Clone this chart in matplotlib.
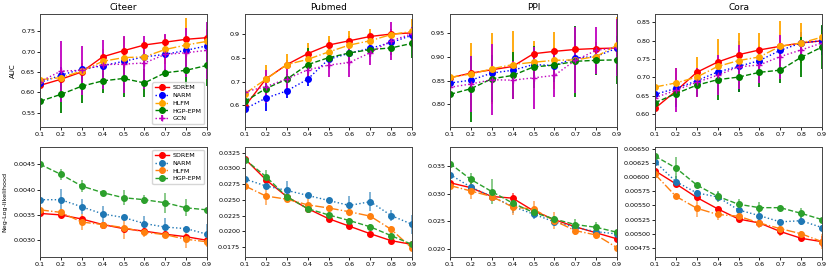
import numpy as np
import matplotlib
matplotlib.use("Agg")
import matplotlib.pyplot as plt
from matplotlib.ticker import MultipleLocator

ratios = [0.1, 0.2, 0.3, 0.4, 0.5, 0.6, 0.7, 0.8, 0.9]
datasets = ["Citeer", "Pubmed", "PPI", "Cora"]

# AUC (top row)
auc_sdrem = [
    [0.617, 0.632, 0.650, 0.687, 0.702, 0.716, 0.723, 0.730, 0.734],
    [0.597, 0.711, 0.771, 0.817, 0.853, 0.871, 0.889, 0.899, 0.904],
    [0.856, 0.866, 0.873, 0.880, 0.907, 0.912, 0.916, 0.918, 0.919],
    [0.616, 0.663, 0.714, 0.742, 0.762, 0.775, 0.785, 0.794, 0.800],
]
auc_narm = [
    [0.624, 0.642, 0.657, 0.665, 0.676, 0.687, 0.693, 0.703, 0.714],
    [0.586, 0.631, 0.661, 0.710, 0.793, 0.819, 0.839, 0.864, 0.894],
    [0.845, 0.851, 0.866, 0.872, 0.884, 0.882, 0.898, 0.901, 0.919],
    [0.654, 0.670, 0.691, 0.715, 0.730, 0.746, 0.774, 0.794, 0.800],
]
auc_hlfm = [
    [0.631, 0.636, 0.652, 0.676, 0.685, 0.687, 0.705, 0.716, 0.725],
    [0.650, 0.710, 0.771, 0.793, 0.824, 0.853, 0.871, 0.897, 0.910],
    [0.857, 0.864, 0.875, 0.884, 0.889, 0.893, 0.894, 0.901, 0.925],
    [0.674, 0.685, 0.701, 0.730, 0.746, 0.756, 0.785, 0.794, 0.810],
]
auc_hgp = [
    [0.578, 0.595, 0.615, 0.628, 0.634, 0.623, 0.648, 0.654, 0.666],
    [0.617, 0.671, 0.710, 0.771, 0.800, 0.820, 0.834, 0.841, 0.860],
    [0.821, 0.833, 0.854, 0.861, 0.879, 0.883, 0.891, 0.893, 0.894],
    [0.631, 0.656, 0.679, 0.694, 0.701, 0.714, 0.720, 0.755, 0.783],
]
auc_gcn = [
    [0.626, 0.652, 0.654, 0.668, 0.669, 0.672, 0.693, 0.697, 0.703],
    [0.657, 0.679, 0.711, 0.749, 0.769, 0.780, 0.821, 0.871, 0.900],
    [0.836, 0.843, 0.852, 0.851, 0.856, 0.861, 0.893, 0.914, 0.920],
    [0.645, 0.665, 0.687, 0.706, 0.729, 0.734, 0.757, 0.775, 0.794],
]
# AUC errors
auc_sdrem_err = [
    [0.005, 0.005, 0.005, 0.010, 0.010, 0.010, 0.010, 0.010, 0.010],
    [0.010, 0.010, 0.020, 0.020, 0.020, 0.020, 0.020, 0.020, 0.020],
    [0.010, 0.010, 0.010, 0.010, 0.010, 0.010, 0.010, 0.010, 0.010],
    [0.010, 0.010, 0.010, 0.010, 0.010, 0.010, 0.010, 0.010, 0.010],
]
auc_narm_err = [
    [0.060, 0.020, 0.010, 0.010, 0.010, 0.010, 0.010, 0.010, 0.010],
    [0.060, 0.055, 0.030, 0.030, 0.030, 0.030, 0.020, 0.020, 0.020],
    [0.020, 0.020, 0.020, 0.020, 0.020, 0.020, 0.020, 0.030, 0.020],
    [0.070, 0.050, 0.030, 0.040, 0.070, 0.030, 0.040, 0.030, 0.040],
]
auc_hlfm_err = [
    [0.020, 0.020, 0.020, 0.030, 0.050, 0.020, 0.035, 0.065, 0.030],
    [0.020, 0.060, 0.045, 0.070, 0.065, 0.060, 0.050, 0.020, 0.050],
    [0.060, 0.065, 0.075, 0.070, 0.045, 0.060, 0.050, 0.030, 0.060],
    [0.040, 0.040, 0.055, 0.075, 0.075, 0.065, 0.070, 0.055, 0.020],
]
auc_hgp_err = [
    [0.050, 0.045, 0.040, 0.030, 0.045, 0.035, 0.010, 0.040, 0.050],
    [0.010, 0.030, 0.020, 0.070, 0.020, 0.040, 0.030, 0.030, 0.060],
    [0.045, 0.070, 0.050, 0.050, 0.045, 0.035, 0.075, 0.030, 0.050],
    [0.020, 0.030, 0.030, 0.055, 0.040, 0.040, 0.035, 0.055, 0.060],
]
auc_gcn_err = [
    [0.030, 0.075, 0.060, 0.060, 0.070, 0.065, 0.050, 0.060, 0.070],
    [0.060, 0.070, 0.060, 0.030, 0.050, 0.060, 0.050, 0.080, 0.030],
    [0.030, 0.060, 0.075, 0.040, 0.065, 0.045, 0.070, 0.050, 0.060],
    [0.080, 0.060, 0.040, 0.055, 0.060, 0.050, 0.060, 0.020, 0.020],
]

# Neg-Log-likelihood (bottom row)
nll_sdrem = [
    [0.00353, 0.00350, 0.00342, 0.00331, 0.00323, 0.00318, 0.00312, 0.00307, 0.00300],
    [0.0315, 0.0282, 0.0255, 0.0236, 0.0220, 0.0208, 0.0196, 0.0185, 0.0179],
    [0.0320, 0.0311, 0.0295, 0.0292, 0.0269, 0.0253, 0.0240, 0.0229, 0.0218],
    [0.00611, 0.00588, 0.00564, 0.00544, 0.00526, 0.00519, 0.00504, 0.00492, 0.00486],
]
nll_narm = [
    [0.00380, 0.00380, 0.00366, 0.00352, 0.00345, 0.00333, 0.00326, 0.00323, 0.00312],
    [0.0283, 0.0272, 0.0265, 0.0257, 0.0249, 0.0241, 0.0247, 0.0225, 0.0211],
    [0.0335, 0.0312, 0.0295, 0.0277, 0.0263, 0.0249, 0.0239, 0.0231, 0.0227],
    [0.00627, 0.00592, 0.00572, 0.00565, 0.00542, 0.00532, 0.00521, 0.00523, 0.00511],
]
nll_hlfm = [
    [0.00360, 0.00355, 0.00336, 0.00331, 0.00325, 0.00316, 0.00311, 0.00302, 0.00297],
    [0.0272, 0.0256, 0.0251, 0.0242, 0.0237, 0.0231, 0.0224, 0.0203, 0.0173],
    [0.0315, 0.0305, 0.0295, 0.0276, 0.0272, 0.0251, 0.0233, 0.0225, 0.0202],
    [0.00605, 0.00566, 0.00545, 0.00534, 0.00531, 0.00519, 0.00509, 0.00500, 0.00486],
]
nll_hgp = [
    [0.00450, 0.00430, 0.00407, 0.00394, 0.00384, 0.00380, 0.00374, 0.00364, 0.00360],
    [0.0314, 0.0287, 0.0255, 0.0236, 0.0226, 0.0217, 0.0207, 0.0193, 0.0179],
    [0.0355, 0.0326, 0.0304, 0.0283, 0.0266, 0.0254, 0.0244, 0.0239, 0.0230],
    [0.00637, 0.00616, 0.00586, 0.00566, 0.00552, 0.00546, 0.00546, 0.00536, 0.00525],
]
nll_sdrem_err = [
    [0.00003] * 9,
    [0.0003, 0.0003, 0.0003, 0.0003, 0.0003, 0.0003, 0.0003, 0.0003, 0.0003],
    [0.0005, 0.0005, 0.0005, 0.0010, 0.0005, 0.0005, 0.0005, 0.0005, 0.0005],
    [0.00003, 0.00003, 0.00003, 0.00003, 0.00003, 0.00003, 0.00003, 0.00003, 0.00010],
]
nll_narm_err = [
    [0.00020, 0.00022, 0.00015, 0.00015, 0.00005, 0.00015, 0.00017, 0.00005, 0.00020],
    [0.0008, 0.0003, 0.0015, 0.0003, 0.0003, 0.0015, 0.0015, 0.0008, 0.0015],
    [0.0010, 0.0008, 0.0005, 0.0012, 0.0008, 0.0006, 0.0008, 0.0006, 0.0005],
    [0.00010, 0.00010, 0.00005, 0.00008, 0.00015, 0.00008, 0.00005, 0.00008, 0.00005],
]
nll_hlfm_err = [
    [0.00005, 0.00005, 0.00015, 0.00005, 0.00022, 0.00010, 0.00005, 0.00018, 0.00010],
    [0.0003, 0.0015, 0.0003, 0.0010, 0.0005, 0.0006, 0.0003, 0.0006, 0.0003],
    [0.0020, 0.0015, 0.0005, 0.0015, 0.0015, 0.0015, 0.0008, 0.0008, 0.0005],
    [0.00020, 0.00003, 0.00015, 0.00010, 0.00005, 0.00008, 0.00013, 0.00005, 0.00013],
]
nll_hgp_err = [
    [0.00030, 0.00011, 0.00012, 0.00003, 0.00015, 0.00009, 0.00020, 0.00017, 0.00004],
    [0.0003, 0.0010, 0.0005, 0.0004, 0.0006, 0.0004, 0.0004, 0.0004, 0.0003],
    [0.0012, 0.0011, 0.0023, 0.0010, 0.0005, 0.0005, 0.0010, 0.0010, 0.0003],
    [0.00003, 0.00020, 0.00003, 0.00010, 0.00010, 0.00010, 0.00003, 0.00010, 0.00003],
]

auc_ylim = [(0.515, 0.792), (0.51, 0.983), (0.752, 0.991), (0.565, 0.873)]
nll_ylim = [(0.00267, 0.00484), (0.0159, 0.0334), (0.0185, 0.0385), (0.00459, 0.00653)]
nll_step = [0.0005, 0.0025, 0.005, 0.00025]

top_series = [
    ("SDREM", auc_sdrem, auc_sdrem_err, "red", "-", "o"),
    ("NARM", auc_narm, auc_narm_err, "blue", ":", "o"),
    ("HLFM", auc_hlfm, auc_hlfm_err, "orange", "-.", "o"),
    ("HGP-EPM", auc_hgp, auc_hgp_err, "green", "--", "o"),
    ("GCN", auc_gcn, auc_gcn_err, "m", ":", "+"),
]
bottom_series = [
    ("SDREM", nll_sdrem, nll_sdrem_err, "red", "-", "o"),
    ("NARM", nll_narm, nll_narm_err, "tab:blue", ":", "o"),
    ("HLFM", nll_hlfm, nll_hlfm_err, "tab:orange", "-.", "o"),
    ("HGP-EPM", nll_hgp, nll_hgp_err, "tab:green", "--", "o"),
]


def style_axis(ax):
    ax.set_xlim(0.1, 0.9)
    ax.set_xticks(ratios)
    ax.tick_params(labelsize=4.6, length=2, width=0.6, pad=1.5)
    for s in ax.spines.values():
        s.set_linewidth(0.7)
        s.set_color("#444444")


fig = plt.figure(figsize=(8.3, 2.73), dpi=100)
lefts = [40, 245, 450, 655]
w = 167 / 830

for i, name in enumerate(datasets):
    x0 = lefts[i] / 830
    ax = fig.add_axes([x0, 1 - 127 / 273, w, 113 / 273])
    for lab, vals, errs, c, ls, mk in top_series:
        ax.errorbar(ratios, vals[i], yerr=errs[i], color=c, ls=ls, marker=mk,
                    markersize=4, lw=1.0, elinewidth=1.3, label=lab)
    style_axis(ax)
    ax.set_ylim(*auc_ylim[i])
    ax.set_title(name, fontsize=6.5, pad=3)
    if i == 0:
        ax.set_ylabel("AUC", fontsize=5)
        ax.legend(loc="lower right", fontsize=4.6, handlelength=2.2,
                  borderpad=0.4, labelspacing=0.35, handletextpad=0.5)

    ax2 = fig.add_axes([x0, 1 - 257 / 273, w, 110 / 273])
    for lab, vals, errs, c, ls, mk in bottom_series:
        eb = ax2.errorbar(ratios, vals[i], yerr=errs[i], color=c, ls=ls, marker=mk,
                          markersize=4, lw=1.0, elinewidth=1.3, label=lab)
        for bar in eb[2]:
            bar.set_alpha(0.6)
    style_axis(ax2)
    ax2.set_ylim(*nll_ylim[i])
    ax2.yaxis.set_major_locator(MultipleLocator(nll_step[i]))
    if i == 0:
        ax2.set_ylabel("Neg-Log-likelihood", fontsize=4.6)
        ax2.legend(loc="upper right", fontsize=4.6, handlelength=2.2,
                   borderpad=0.4, labelspacing=0.35, handletextpad=0.5)

fig.savefig("out.png", dpi=100)
